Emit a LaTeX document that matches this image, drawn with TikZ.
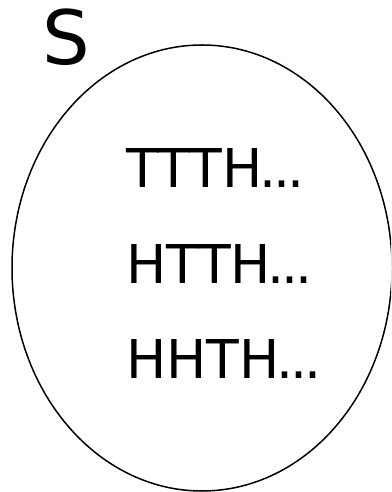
\documentclass[tikz,border=0pt]{standalone}
\usepackage{fontspec}
\setmainfont{DejaVu Sans}
\newcommand{\mydots}{\kern-3.5pt.\kern-3pt.\kern-3pt.}
\begin{document}
\begin{tikzpicture}[x=1pt,y=1pt,
  seq/.style={anchor=base west,inner sep=0pt,font=\fontsize{53.5}{60}\selectfont}]
\useasboundingbox (0,0) rectangle (391,492);
\begin{scope}
\clip (0,0) rectangle (391,492);
\draw[line width=1.5pt] (202,224) ellipse [x radius=190, y radius=223];
\end{scope}
\node[anchor=base west,inner sep=0pt,font=\fontsize{75}{80}\selectfont] (s) at (42,427) {S};
\node[seq] (a) at (126,304) {TTTH\mydots};
\node[seq] (b) at (126,208) {HTTH\mydots};
\node[seq] (c) at (126,113) {HHTH\mydots};
\end{tikzpicture}
\end{document}
